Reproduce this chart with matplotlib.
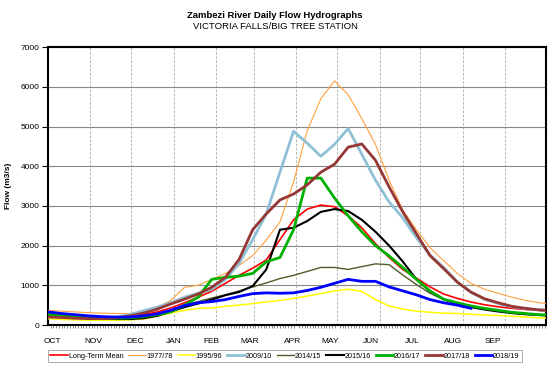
import numpy as np
import matplotlib.pyplot as plt
import matplotlib.transforms as mtransforms
from matplotlib.ticker import MultipleLocator, FixedLocator, NullFormatter

plt.rcParams['font.family'] = ['Liberation Sans', 'DejaVu Sans']

# days since 1 October (water year), sampled every 10 days plus end of year
days = list(range(0, 361, 10)) + [365]

long_term_mean = [280, 250, 220, 200, 190, 190, 210, 260, 330, 430,
                  560, 700, 850, 1050, 1250, 1430, 1640, 2150, 2650, 2920,
                  3020, 2980, 2750, 2450, 2050, 1700, 1400, 1180, 960, 780,
                  670, 580, 510, 460, 420, 390, 370, 360]
y1977 = [370, 350, 330, 310, 300, 290, 290, 330, 450, 620,
         950, 1000, 1150, 1300, 1500, 1750, 2140, 2600, 3600, 4900,
         5700, 6150, 5800, 5200, 4550, 3650, 2900, 2400, 1950, 1620,
         1300, 1050, 900, 800, 700, 620, 560, 540]
y1995 = [160, 140, 130, 120, 120, 120, 130, 150, 220, 300,
         370, 420, 430, 470, 500, 540, 580, 620, 670, 730,
         790, 860, 900, 850, 640, 480, 400, 350, 320, 300,
         290, 270, 250, 240, 220, 200, 180, 175]
y2009 = [230, 210, 190, 180, 180, 200, 260, 360, 450, 560,
         700, 800, 900, 1150, 1550, 2150, 2800, 3850, 4880, 4580,
         4250, 4550, 4950, 4300, 3650, 3100, 2700, 2200, 1760, 1450,
         1080, 820, 650, 540, 460, 410, 380, 370]
y2014 = [260, 240, 220, 200, 190, 180, 190, 220, 270, 380,
         500, 590, 680, 760, 860, 960, 1060, 1170, 1250, 1350,
         1450, 1450, 1400, 1470, 1540, 1520, 1260, 1020, 800, 640,
         540, 460, 400, 350, 310, 280, 260, 255]
y2015 = [260, 230, 200, 180, 160, 150, 150, 170, 230, 340,
         450, 540, 640, 750, 830, 980, 1400, 2400, 2450, 2620,
         2850, 2920, 2870, 2650, 2350, 2000, 1600, 1150, 850, 650,
         530, 450, 390, 340, 300, 270, 250, 245]
y2016 = [270, 240, 210, 190, 170, 170, 180, 210, 260, 330,
         500, 700, 1150, 1200, 1230, 1300, 1590, 1700, 2400, 3700,
         3700, 3200, 2750, 2350, 2000, 1740, 1450, 1150, 860, 650,
         560, 480, 420, 370, 320, 290, 260, 255]
y2017 = [200, 190, 170, 160, 160, 180, 230, 300, 400, 530,
         650, 780, 950, 1200, 1650, 2400, 2800, 3150, 3300, 3530,
         3850, 4050, 4480, 4560, 4150, 3480, 2850, 2300, 1750, 1420,
         1080, 830, 660, 560, 470, 420, 380, 370]
y2018 = [330, 290, 260, 230, 210, 200, 200, 230, 280, 370,
         490, 560, 590, 640, 720, 790, 810, 800, 810, 870,
         950, 1050, 1150, 1100, 1100, 960, 860, 760, 640, 560,
         500, 420, np.nan, np.nan, np.nan, np.nan, np.nan, np.nan]

series = [
    ("Long-Term Mean", long_term_mean, "#FF0000", 1.2),
    ("1977/78", y1977, "#FFA040", 0.8),
    ("1995/96", y1995, "#FFFF00", 1.1),
    ("2009/10", y2009, "#8FC1D6", 2.0),
    ("2014/15", y2014, "#4F5B2A", 1.0),
    ("2015/16", y2015, "#000000", 1.5),
    ("2016/17", y2016, "#00B000", 2.0),
    ("2017/18", y2017, "#953735", 2.0),
    ("2018/19", y2018, "#0000FF", 2.0),
]

month_starts = [0, 31, 61, 92, 123, 151, 182, 212, 243, 273, 304, 335, 365]
month_labels = ["OCT", "NOV", "DEC", "JAN", "FEB", "MAR", "APR", "MAY",
                "JUN", "JUL", "AUG", "SEP"]
label_days = [3, 33, 64, 92, 120, 148, 179, 207, 237, 267, 297, 326]

fig = plt.figure(figsize=(5.5, 3.74), dpi=100)
ax = fig.add_axes([0.0873, 0.131, 0.9054, 0.743])

for name, vals, col, lw in series:
    ax.plot(days, vals, color=col, lw=lw, label=name, zorder=3)

ax.set_xlim(0, 365)
ax.set_ylim(0, 7000)
ax.yaxis.set_major_locator(MultipleLocator(1000))
ax.xaxis.set_major_locator(FixedLocator(month_starts))
ax.xaxis.set_major_formatter(NullFormatter())
ax.xaxis.set_minor_locator(MultipleLocator(2))
ax.tick_params(axis="x", which="major", length=0)
ax.tick_params(axis="x", which="minor", length=2, width=0.5, color="#555555")
ax.tick_params(axis="y", length=4, width=0.8, labelsize=6, pad=2)

ax.grid(axis="y", color="#888888", lw=0.8)
ax.grid(axis="x", color="#AAAAAA", lw=0.6, ls=(0, (3, 2)))
ax.set_axisbelow(True)
for sp in ax.spines.values():
    sp.set_linewidth(1.5)

trans = mtransforms.blended_transform_factory(ax.transData, ax.transAxes)
for d, lab in zip(label_days, month_labels):
    ax.text(d, -0.045, lab, transform=trans, ha="center", va="top", fontsize=6)

ax.set_ylabel("Flow (m3/s)", fontsize=6, fontweight="bold", labelpad=6)

fig.text(0.5, 0.958, "Zambezi River Daily Flow Hydrographs", ha="center",
         va="center", fontsize=6.8, fontweight="bold")
fig.text(0.5, 0.928, "VICTORIA FALLS/BIG TREE STATION", ha="center",
         va="center", fontsize=6.8)

leg = fig.legend(loc="center", bbox_to_anchor=(0.518, 0.048), ncol=9,
                 fontsize=5.2, frameon=True, fancybox=False, edgecolor="#888888",
                 handlelength=2.4, handletextpad=0.1, columnspacing=0.7,
                 borderpad=0.4, borderaxespad=0)
leg.get_frame().set_linewidth(0.6)

fig.savefig("out.png", dpi=100)
